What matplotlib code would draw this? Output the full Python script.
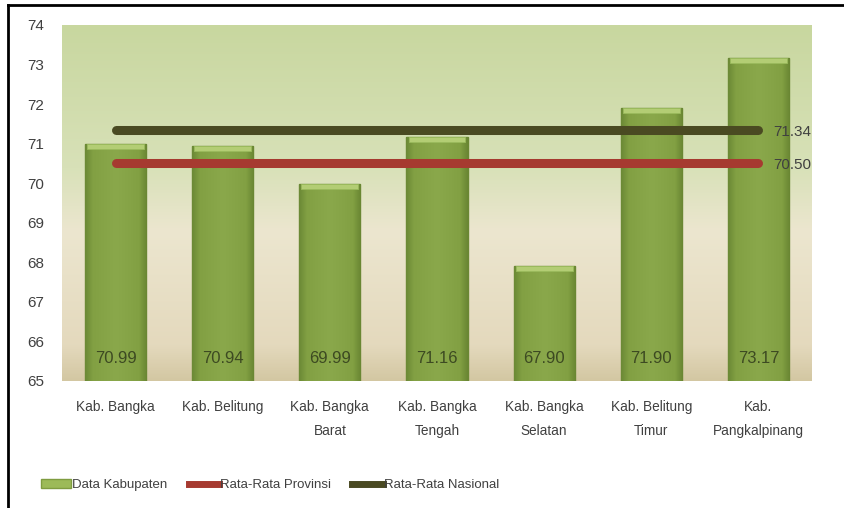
import matplotlib
matplotlib.use("Agg")
import matplotlib.pyplot as plt
import numpy as np
from matplotlib.lines import Line2D
from matplotlib.patches import Patch
from matplotlib.colors import LinearSegmentedColormap

categories = ["Kab. Bangka", "Kab. Belitung", "Kab. Bangka\nBarat", "Kab. Bangka\nTengah",
              "Kab. Bangka\nSelatan", "Kab. Belitung\nTimur", "Kab.\nPangkalpinang"]
values = [70.99, 70.94, 69.99, 71.16, 67.90, 71.90, 73.17]
provinsi = 70.50
nasional = 71.34
yticks = list(range(65, 75))

plt.rcParams['font.family'] = ['Liberation Sans Narrow', 'Liberation Sans', 'DejaVu Sans']

fig = plt.figure(figsize=(8.45, 5.08), dpi=100)
ax = fig.add_axes([62/845, 1-381/508, 750/845, 356/508])

ymin, ymax = 65, 74
ax.set_xlim(-0.5, len(categories)-0.5)
ax.set_ylim(ymin, ymax)

# background gradient
bg = LinearSegmentedColormap.from_list("bg", [(0.0, "#d3c7a2"), (0.10, "#e4d9bd"), (0.42, "#ece6cf"),
                                              (0.60, "#d8e1b8"), (1.0, "#c8d79f")])
grad = np.linspace(0, 1, 256).reshape(-1, 1)
ax.imshow(grad, aspect='auto', cmap=bg, origin='lower', extent=[-0.5, len(categories)-0.5, ymin, ymax], zorder=0)

x = np.arange(len(categories))
heights = [v - ymin for v in values]
bars = ax.bar(x, heights, bottom=ymin, width=0.57, color="#86a446", edgecolor="#6a8733", linewidth=1.0, zorder=2)

barcm = LinearSegmentedColormap.from_list("bar", [(0.0, "#6c8a36"), (0.12, "#82a043"), (0.5, "#8aa84b"),
                                                  (0.88, "#82a043"), (1.0, "#6a8733")])
hgrad = np.linspace(0, 1, 64).reshape(1, -1)
for b in bars:
    x0, y0 = b.get_x(), b.get_y()
    im = ax.imshow(hgrad, aspect='auto', cmap=barcm, extent=[x0, x0 + b.get_width(), y0, y0 + b.get_height()],
                   zorder=2.5)
    im.set_clip_path(b)

cap = 0.13
ax.bar(x, [cap]*len(x), bottom=[v - cap for v in values], width=0.53, color="#b3cd74",
       edgecolor="#9aba5c", linewidth=0.6, zorder=3)
ax.set_xlim(-0.5, len(categories)-0.5)
ax.set_ylim(ymin, ymax)

for xi, v in zip(x, values):
    ax.annotate(f"{v:.2f}", (xi, ymin), xytext=(0, 16), textcoords='offset points',
                ha='center', va='center', fontsize=12, color="#3d4a22", zorder=5)

ax.plot([x[0], x[-1]], [nasional, nasional], color="#4a4a22", lw=6.5, solid_capstyle='round', zorder=4)
ax.plot([x[0], x[-1]], [provinsi, provinsi], color="#a63a30", lw=6.5, solid_capstyle='round', zorder=4)
ax.annotate(f"{nasional:.2f}", (x[-1], nasional), xytext=(11, -1), textcoords='offset points',
            ha='left', va='center', fontsize=11, color="#404040")
ax.annotate(f"{provinsi:.2f}", (x[-1], provinsi), xytext=(11, -1), textcoords='offset points',
            ha='left', va='center', fontsize=11, color="#404040")

ax.set_yticks(yticks)
ax.set_yticklabels([str(t) for t in yticks], fontsize=11, color="#404040")
ax.set_xticks(x)
ax.set_xticklabels(categories, fontsize=9.8, color="#404040", linespacing=1.9)
ax.tick_params(axis='both', length=0)
ax.tick_params(axis='y', pad=13)
ax.tick_params(axis='x', pad=14)
for s in ax.spines.values():
    s.set_visible(False)

handles = [Patch(facecolor="#9cba58", edgecolor="#7f9c40"),
           Line2D([0], [0], color="#a63a30", lw=5),
           Line2D([0], [0], color="#4a4a22", lw=5)]
labels = ["Data Kabupaten", "Rata-Rata Provinsi", "Rata-Rata Nasional"]
fig.legend(handles, labels, loc='center', bbox_to_anchor=(270/845, 1-485/508), ncol=3, frameon=False,
           fontsize=9.5, handlelength=2.3, handletextpad=0.1, columnspacing=1.6, labelcolor="#404040")

# figure border (top and left)
fig.add_artist(Line2D([8/845, 1], [1-5/508, 1-5/508], color="black", lw=2, transform=fig.transFigure))
fig.add_artist(Line2D([8/845, 8/845], [0, 1-5/508], color="black", lw=2, transform=fig.transFigure))

fig.savefig("out.png", dpi=100)
